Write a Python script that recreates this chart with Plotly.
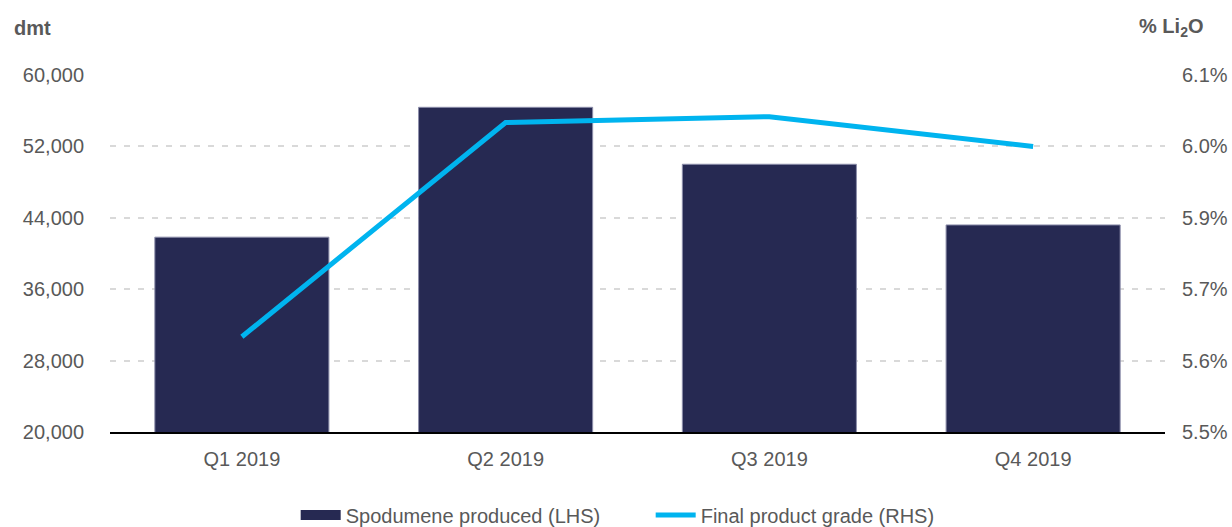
import plotly.graph_objects as go

categories = ["Q1 2019", "Q2 2019", "Q3 2019", "Q4 2019"]
spodumene_dmt = [41830, 56380, 50000, 43200]
grade_pct = [5.66, 6.02, 6.03, 5.98]

left_ticks = [20000, 28000, 36000, 44000, 52000, 60000]
left_tick_labels = ["20,000", "28,000", "36,000", "44,000", "52,000", "60,000"]
right_ticks = [5.5, 5.62, 5.74, 5.86, 5.98, 6.1]
right_tick_labels = ["5.5%", "5.6%", "5.7%", "5.9%", "6.0%", "6.1%"]

FONT = "Liberation Sans, Arial, sans-serif"
TXT = "#595959"
BAR = "#262952"
LINE = "#00B4EF"
FS = 20

fig = go.Figure()
fig.add_trace(go.Bar(
    x=categories, y=spodumene_dmt, name="Spodumene produced (LHS)",
    marker=dict(color=BAR, line=dict(color="#8c8eaa", width=1)),
    yaxis="y", showlegend=False,
))
# legend proxy giving a wide rectangular swatch like the reference
fig.add_trace(go.Scatter(
    x=[categories[0]], y=[None], name="Spodumene produced (LHS)",
    mode="lines", line=dict(color=BAR, width=12), yaxis="y",
    hoverinfo="skip",
))
fig.add_trace(go.Scatter(
    x=categories, y=grade_pct, name="Final product grade (RHS)",
    mode="lines", line=dict(color=LINE, width=5),
    yaxis="y2",
))

fig.update_layout(
    width=1232, height=527,
    margin=dict(l=110, r=67, t=75, b=95, autoexpand=False),
    paper_bgcolor="white", plot_bgcolor="white",
    font=dict(family=FONT, size=FS, color=TXT),
    bargap=0.34,
    showlegend=True,
    legend=dict(orientation="h", x=0.176, xanchor="left",
                yref="container", y=0.023, yanchor="middle",
                font=dict(size=FS, color=TXT), itemwidth=40,
                entrywidth=300, entrywidthmode="pixels",
                tracegroupgap=0),
    xaxis=dict(showline=True, linecolor="black", linewidth=2, ticks="",
               showgrid=False, ticklabelstandoff=8,
               tickfont=dict(size=FS, color=TXT)),
    yaxis=dict(range=[20000, 60000], tickvals=left_ticks, ticktext=left_tick_labels,
               showgrid=True, gridcolor="#d9d9d9", gridwidth=1.5, griddash="6px,8px",
               zeroline=False, showline=False, ticklabelstandoff=25,
               tickfont=dict(size=FS, color=TXT)),
    yaxis2=dict(range=[5.5, 6.1], tickvals=right_ticks, ticktext=right_tick_labels,
                overlaying="y", side="right", showgrid=False, zeroline=False,
                showline=False, ticklabelstandoff=16,
                tickfont=dict(size=FS, color=TXT)),
    annotations=[
        dict(text="<b>dmt</b>", xref="paper", yref="paper", x=-0.093, y=1.132,
             xanchor="left", yanchor="middle", showarrow=False,
             font=dict(size=FS, color=TXT)),
        dict(text="<b>% Li<sub>2</sub>O</b>", xref="paper", yref="paper", x=1.038, y=1.132,
             xanchor="right", yanchor="middle", showarrow=False,
             font=dict(size=FS, color=TXT)),
    ],
)

fig.write_html("out.html")
